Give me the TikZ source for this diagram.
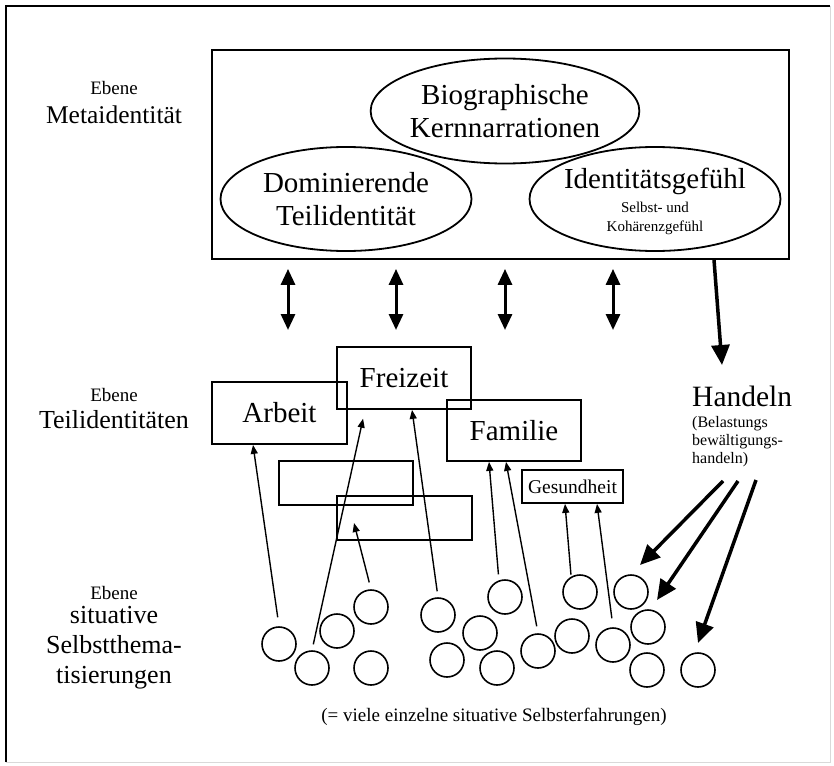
\documentclass[tikz,border=0pt]{standalone}
\usepackage{fontspec}
\setmainfont{Liberation Serif}
\usetikzlibrary{arrows.meta,shapes.geometric}
\begin{document}
\begin{tikzpicture}[x=1pt,y=-1pt,
  tbox/.style={draw,line width=1.8pt,inner sep=0pt,font=\fontsize{29}{33}\selectfont},
  ell/.style={draw,ellipse,line width=1.8pt,minimum width=251pt,minimum height=104pt,inner sep=0pt,align=center,font=\fontsize{29}{33}\selectfont},
  circ/.style={draw,circle,line width=1.6pt,minimum size=34pt,inner sep=0pt},
  farrow/.style={line width=1.4pt,-{Triangle[length=9pt,width=7pt]}},
  dbl/.style={line width=3pt,{Triangle[length=16pt,width=14pt]}-{Triangle[length=16pt,width=14pt]}},
  bold/.style={line width=3.5pt,-{Triangle[length=20pt,width=18pt]}},
  lvl/.style={font=\fontsize{26}{30}\selectfont,align=center},
  ebene/.style={font=\fontsize{19}{22}\selectfont}]
\useasboundingbox[fill=white] (0,0) rectangle (834,765);
% outer frame
\draw[line width=2pt] (6,762) -- (6,6) -- (830,6);
\draw[gray!30,line width=1pt] (830,6) -- (830,762) -- (6,762);
% meta level
\node[draw,line width=1.8pt,minimum width=577pt,minimum height=209pt,inner sep=0pt] (meta) at (500.5,154.5) {};
\node[ell,minimum height=105pt] (bio) at (505,111) {Biographische\\Kernnarrationen};
\node[ell] (dom) at (346,199) {Dominierende\\Teilidentität};
\node[ell] (idg) at (655,199) {};
\node[font=\fontsize{29}{33}\selectfont] (idgt) at (655,181) {Identitätsgefühl};
\node[font=\fontsize{15}{19}\selectfont,align=center] (idgs) at (655,218) {Selbst- und\\Kohärenzgefühl};
% level labels
\node[ebene] (e1) at (114,88) {Ebene};
\node[lvl,font=\fontsize{25.5}{30}\selectfont] (l1) at (114,115) {Metaidentität};
\node[ebene] (e2) at (114,395) {Ebene};
\node[lvl] (l2) at (114,420) {Teilidentitäten};
\node[ebene] (e3) at (114,593) {Ebene};
\node[lvl] (l3) at (114,648) {situative\\Selbstthema-\\tisierungen};
% partial identities
\node[tbox,minimum width=135pt,minimum height=62pt] (arbeit) at (279.5,413) {Arbeit};
\node[tbox,minimum width=134pt,minimum height=62pt] (freizeit) at (404,378) {Freizeit};
\node[tbox,minimum width=134pt,minimum height=61pt] (familie) at (514,430.5) {Familie};
\node[tbox,minimum width=101pt,minimum height=33pt,font=\fontsize{19.5}{22}\selectfont] (gesund) at (572.5,486.5) {Gesundheit};
\node[tbox,minimum width=134pt,minimum height=44pt] (leer1) at (346,483) {};
\node[tbox,minimum width=135pt,minimum height=44pt] (leer2) at (404.5,518) {};
% Handeln
\node[font=\fontsize{29.5}{33}\selectfont,anchor=west,inner sep=0pt] (handeln) at (692,396) {Handeln};
\node[font=\fontsize{16}{18}\selectfont,align=left,anchor=north west,inner sep=0pt] (hsub) at (692,416) {(Belastungs\\bewältigungs-\\handeln)};
% situative self-thematisations
\foreach \n/\x/\y in {1/279/644,2/312/668,3/337/631,4/371/607,5/371/668,6/438/615,7/447/660,8/480/633,9/505/597,10/497/668,11/538/651,12/572/636,13/580/592,14/613/645,15/631/592,16/648/627,17/647/670,18/698/670}
  \node[circ] (c\n) at (\x,\y) {};
\node[font=\fontsize{19}{22}\selectfont] (note) at (494,717) {(= viele einzelne situative Selbsterfahrungen)};
% double arrows
\foreach \i/\x in {1/288,2/396,3/505,4/613}{
  \coordinate (d\i) at (\x,330);
  \draw[dbl,shorten <=9pt] (\x,0 |- meta.south) -- (d\i);
}
% arrow to Handeln
\coordinate (ht) at (722,365);
\draw[bold] (714,0 |- meta.south) -- (ht);
% thin arrows from situations
\coordinate (l2t) at (354,523);
\draw[farrow,shorten <=9pt] (c1.north) -- (253,0 |- arbeit.south);
\draw[farrow,shorten <=6pt,shorten >=9pt] (c2.north) -- (365,0 |- freizeit.south);
\draw[farrow,shorten <=7pt] (c4.north) -- (l2t);
\draw[farrow,shorten <=6pt] (c6.north) -- (412,0 |- freizeit.south);
\draw[farrow,shorten <=6pt] (c9.110) -- (489,0 |- familie.south);
\draw[farrow,shorten <=7pt] (c11.north) -- (506,0 |- familie.south);
\draw[farrow,shorten <=2pt] (c13.120) -- (565,0 |- gesund.south);
\draw[farrow,shorten <=9pt] (c14.north) -- (597,0 |- gesund.south);
% bold arrows from Handeln
\coordinate (h1) at (723,481);
\coordinate (h2) at (738,481);
\coordinate (h3) at (756,480);
\coordinate (t1) at (640,565);
\coordinate (t2) at (657,600);
\coordinate (t3) at (698,643);
\draw[bold] (h1) -- (t1);
\draw[bold] (h2) -- (t2);
\draw[bold] (h3) -- (t3);
\end{tikzpicture}
\end{document}
